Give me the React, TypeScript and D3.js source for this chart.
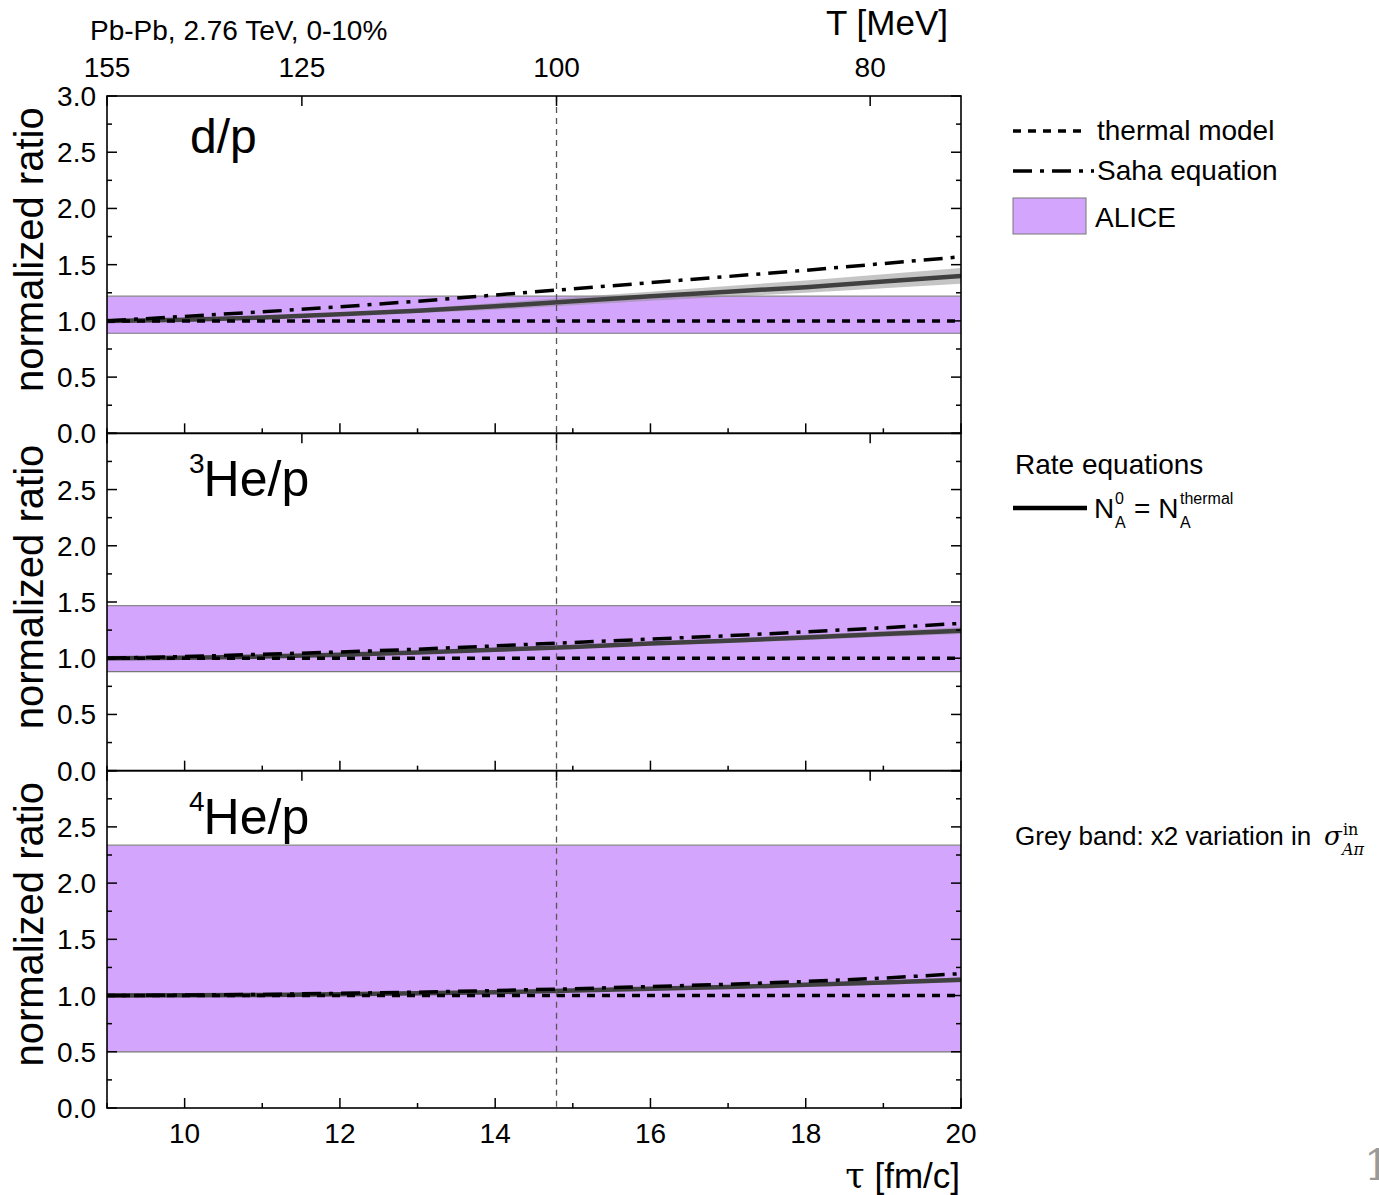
import React from 'react';
import * as d3 from 'd3';

// proper time grid (fm/c)
const tau = [9, 10, 11, 12, 13, 14, 15, 16, 17, 18, 19, 20];

// d/p
const dpSaha = [1.0, 1.04, 1.08, 1.125, 1.175, 1.23, 1.285, 1.34, 1.395, 1.45, 1.51, 1.57];
const dpRate = [1.0, 1.01, 1.03, 1.06, 1.09, 1.13, 1.175, 1.22, 1.26, 1.3, 1.35, 1.4];
const dpBandHi = [1.0, 1.015, 1.04, 1.075, 1.11, 1.16, 1.21, 1.26, 1.31, 1.36, 1.415, 1.47];
const dpBandLo = [1.0, 1.005, 1.02, 1.045, 1.07, 1.1, 1.14, 1.18, 1.215, 1.25, 1.29, 1.33];
const dpAlice = [0.89, 1.22];

// 3He/p
const he3Saha = [1.0, 1.015, 1.035, 1.055, 1.08, 1.11, 1.14, 1.17, 1.2, 1.235, 1.27, 1.31];
const he3Rate = [1.0, 1.005, 1.015, 1.03, 1.05, 1.075, 1.1, 1.13, 1.155, 1.185, 1.215, 1.245];
const he3BandHi = [1.0, 1.008, 1.02, 1.037, 1.06, 1.087, 1.115, 1.147, 1.175, 1.208, 1.24, 1.275];
const he3BandLo = [1.0, 1.003, 1.01, 1.023, 1.04, 1.063, 1.085, 1.113, 1.135, 1.162, 1.19, 1.215];
const he3Alice = [0.88, 1.467];

// 4He/p
const he4Saha = [1.0, 1.004, 1.01, 1.02, 1.03, 1.045, 1.06, 1.08, 1.1, 1.125, 1.155, 1.195];
const he4Rate = [1.0, 1.002, 1.006, 1.012, 1.02, 1.03, 1.045, 1.06, 1.075, 1.095, 1.115, 1.14];
const he4BandHi = [1.0, 1.005, 1.01, 1.018, 1.028, 1.04, 1.057, 1.073, 1.09, 1.112, 1.134, 1.162];
const he4BandLo = [1.0, 1.0, 1.002, 1.006, 1.012, 1.02, 1.033, 1.047, 1.06, 1.078, 1.096, 1.118];
const he4Alice = [0.5, 2.338];

const thermalRatio = 1.0;

// top axis: temperature labels and the tau where they sit
const tempTicks = [155, 125, 100, 80];
const tempTickTau = [9, 11.51, 14.79, 18.83];
const tauTicks = [10, 12, 14, 16, 18, 20];
const tauMinor = [9, 11, 13, 15, 17, 19];
const ratioTicks = [0, 0.5, 1.0, 1.5, 2.0, 2.5, 3.0];
const ratioMinor = [0.25, 0.75, 1.25, 1.75, 2.25, 2.75];

const FONT = 'Liberation Sans, Arial, Helvetica, sans-serif';
const SERIF = 'DejaVu Serif, serif';
const ALICE_FILL = '#d4a5fd';

const W = 1379;
const H = 1195;
const left = 107;
const right = 961;
const top0 = 96;
const bottom0 = 1108;
const panelH = (bottom0 - top0) / 3;

const x = d3.scaleLinear().domain([9, 20]).range([left, right]);

const panels = [
  { name: 'd', saha: dpSaha, rate: dpRate, hi: dpBandHi, lo: dpBandLo, alice: dpAlice },
  { name: '3He', saha: he3Saha, rate: he3Rate, hi: he3BandHi, lo: he3BandLo, alice: he3Alice },
  { name: '4He', saha: he4Saha, rate: he4Rate, hi: he4BandHi, lo: he4BandLo, alice: he4Alice },
];

const Panel = ({ p, i }: { p: any; i: number }) => {
  const top = top0 + i * panelH;
  const bot = top + panelH;
  const y = d3.scaleLinear().domain([0, 3]).range([bot, top]);
  const line = d3.line<number>().x((_, k) => x(tau[k])).y(v => y(v));
  const band = d3.area<number>()
    .x((_, k) => x(tau[k]))
    .y0((_, k) => y(p.lo[k]))
    .y1((_, k) => y(p.hi[k]));
  const clipId = `clip${i}`;
  const yLabels = i === 0 ? ratioTicks : ratioTicks.slice(0, -1);
  const xDash = x(tempTickTau[2]);

  return (
    <g>
      <defs>
        <clipPath id={clipId}>
          <rect x={left} y={top} width={right - left} height={panelH} />
        </clipPath>
      </defs>
      <g clipPath={`url(#${clipId})`}>
        <rect x={left} y={y(p.alice[1])} width={right - left} height={y(p.alice[0]) - y(p.alice[1])} fill={ALICE_FILL} />
        <line x1={left} x2={right} y1={y(p.alice[1])} y2={y(p.alice[1])} stroke="#888" strokeWidth={1.2} />
        <line x1={left} x2={right} y1={y(p.alice[0])} y2={y(p.alice[0])} stroke="#777" strokeWidth={1.2} />
        <path d={band(p.hi) ?? ''} fill="#8c8c8c" fillOpacity={0.5} />
        <path d={line(p.rate) ?? ''} fill="none" stroke="#404040" strokeWidth={4.5} />
        <line x1={left} x2={right} y1={y(thermalRatio)} y2={y(thermalRatio)} stroke="#000" strokeWidth={3.5} strokeDasharray="8,7" />
        <path d={line(p.saha) ?? ''} fill="none" stroke="#000" strokeWidth={3.5} strokeDasharray="19,8,4,8" />
        <line x1={xDash} x2={xDash} y1={top} y2={bot} stroke="#555" strokeWidth={1.3} strokeDasharray="6,5" />
      </g>
      {/* frame */}
      <rect x={left} y={top} width={right - left} height={panelH} fill="none" stroke="#000" strokeWidth={1.6} />
      {/* y ticks, both sides, inward */}
      {ratioTicks.map(t => (
        <g key={`ym${t}`}>
          <line x1={left} x2={left + 10} y1={y(t)} y2={y(t)} stroke="#000" strokeWidth={1.5} />
          <line x1={right} x2={right - 10} y1={y(t)} y2={y(t)} stroke="#000" strokeWidth={1.5} />
        </g>
      ))}
      {ratioMinor.map(t => (
        <g key={`yn${t}`}>
          <line x1={left} x2={left + 5} y1={y(t)} y2={y(t)} stroke="#000" strokeWidth={1.5} />
          <line x1={right} x2={right - 5} y1={y(t)} y2={y(t)} stroke="#000" strokeWidth={1.5} />
        </g>
      ))}
      {yLabels.map(t => (
        <text key={`yl${t}`} x={96} y={y(t) + 10} textAnchor="end" fontSize={28} fontFamily={FONT}>
          {t.toFixed(1)}
        </text>
      ))}
      {/* bottom tau ticks, pointing up */}
      {tauTicks.map(t => (
        <line key={`xm${t}`} x1={x(t)} x2={x(t)} y1={bot} y2={bot - 10} stroke="#000" strokeWidth={1.5} />
      ))}
      {tauMinor.map(t => (
        <line key={`xn${t}`} x1={x(t)} x2={x(t)} y1={bot} y2={bot - 5} stroke="#000" strokeWidth={1.5} />
      ))}
      {/* top temperature ticks, pointing down */}
      {tempTickTau.map(t => (
        <line key={`tt${t}`} x1={x(t)} x2={x(t)} y1={top} y2={top + 10} stroke="#000" strokeWidth={1.5} />
      ))}
      <text
        transform={`translate(43, ${(top + bot) / 2 - 15}) rotate(-90)`}
        textAnchor="middle"
        fontSize={40}
        fontFamily={FONT}
      >
        normalized ratio
      </text>
      {i === 0 ? (
        <text x={190} y={top + 57} fontSize={48} fontFamily={FONT}>d/p</text>
      ) : (
        <text x={189} y={top + 63} fontSize={50} fontFamily={FONT}>
          <tspan fontSize={28} dy={-23}>{i === 1 ? '3' : '4'}</tspan>
          <tspan dy={23} dx={-1}>He/p</tspan>
        </text>
      )}
    </g>
  );
};

const App = () => {
  const legendX0 = 1013;
  const legendX1 = 1086;
  return (
    <svg width={W} height={H} style={{ position: 'absolute', left: 0, top: 0, background: '#fff' }}>
      <rect width={W} height={H} fill="#fff" />
      {panels.map((p, i) => (
        <Panel key={p.name} p={p} i={i} />
      ))}

      {/* top temperature axis labels */}
      {tempTicks.map((t, k) => (
        <text key={`tl${t}`} x={x(tempTickTau[k])} y={77} textAnchor="middle" fontSize={28} fontFamily={FONT}>
          {t}
        </text>
      ))}
      <text x={90} y={40} fontSize={28} fontFamily={FONT}>Pb-Pb, 2.76 TeV, 0-10%</text>
      <text x={948} y={35} textAnchor="end" fontSize={35} fontFamily={FONT}>T [MeV]</text>

      {/* bottom tau axis labels */}
      {tauTicks.map(t => (
        <text key={`bl${t}`} x={x(t)} y={1143} textAnchor="middle" fontSize={28} fontFamily={FONT}>
          {t}
        </text>
      ))}
      <text x={960} y={1188} textAnchor="end" fontSize={35} fontFamily={FONT}>
        <tspan fontFamily={SERIF}>τ</tspan> [fm/c]
      </text>

      {/* legend */}
      <line x1={legendX0} x2={legendX1} y1={131} y2={131} stroke="#000" strokeWidth={3.5} strokeDasharray="8,7" />
      <text x={1097} y={140} fontSize={28} fontFamily={FONT}>thermal model</text>
      <line x1={legendX0} x2={legendX1 + 8} y1={171} y2={171} stroke="#000" strokeWidth={3.5} strokeDasharray="19,8,4,8" />
      <text x={1097} y={180} fontSize={28} fontFamily={FONT}>Saha equation</text>
      <rect x={legendX0} y={198} width={legendX1 - legendX0} height={36} fill={ALICE_FILL} stroke="#777" strokeWidth={1} />
      <text x={1095} y={227} fontSize={28} fontFamily={FONT}>ALICE</text>

      <text x={1015} y={474} fontSize={28} fontFamily={FONT}>Rate equations</text>
      <line x1={legendX0} x2={legendX1 + 1} y1={508} y2={508} stroke="#000" strokeWidth={4.5} />
      <text x={1094} y={518} fontSize={28} fontFamily={FONT}>N</text>
      <text x={1115} y={504} fontSize={16} fontFamily={FONT}>0</text>
      <text x={1115} y={528} fontSize={16} fontFamily={FONT}>A</text>
      <text x={1134} y={518} fontSize={28} fontFamily={FONT}>= N</text>
      <text x={1180} y={504} fontSize={16} fontFamily={FONT}>thermal</text>
      <text x={1180} y={528} fontSize={16} fontFamily={FONT}>A</text>

      <text x={1015} y={845} fontSize={26} fontFamily={FONT}>Grey band: x2 variation in</text>
      <text x={1324} y={845} fontSize={26} fontFamily={SERIF} fontStyle="italic">σ</text>
      <text x={1343} y={835} fontSize={16} fontFamily={SERIF}>in</text>
      <text x={1342} y={855} fontSize={16} fontFamily={SERIF} fontStyle="italic">Aπ</text>

      <text x={1364} y={1180} fontSize={42} fontFamily={SERIF} fill="#9a9a9a">1</text>
    </svg>
  );
};

export default App;
